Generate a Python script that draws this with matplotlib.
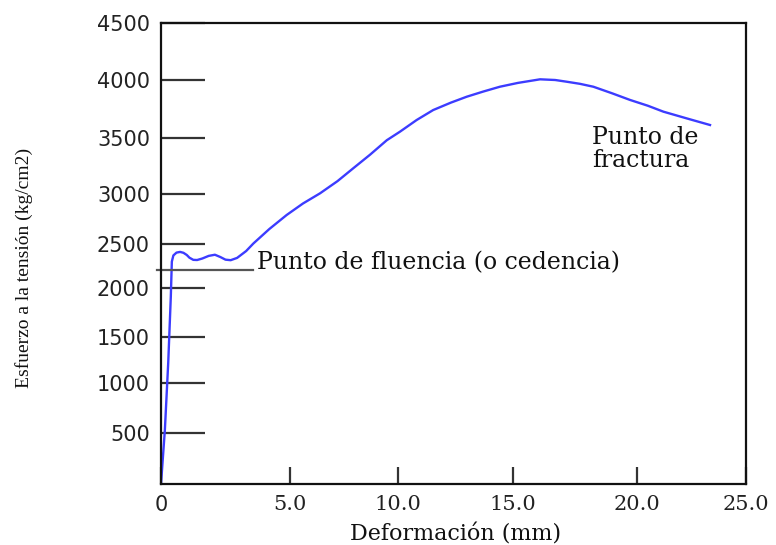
import numpy as np
import matplotlib
matplotlib.use('Agg')
import matplotlib.pyplot as plt

# datos
deformacion = [0.0, 0.15, 0.28, 0.38, 0.42, 0.48, 0.6, 0.74, 0.87, 1.0, 1.1, 1.25,
               1.4, 1.6, 1.85, 2.09, 2.3, 2.5, 2.7, 2.95, 3.3, 3.58, 4.2, 4.87,
               5.6, 6.39, 7.2, 7.93, 8.7, 9.48, 10.09, 10.81, 11.53, 12.3, 12.99,
               13.7, 14.43, 15.2, 16.09, 16.7, 17.17, 17.7, 18.24, 19.0, 19.72,
               20.5, 21.21, 22.3, 23.35]
esfuerzo = [0, 530, 1220, 1910, 2300, 2370, 2402, 2410, 2400, 2375, 2345, 2320,
            2318, 2335, 2365, 2378, 2352, 2322, 2316, 2342, 2420, 2505, 2650, 2790,
            2905, 3006, 3115, 3230, 3350, 3480, 3555, 3655, 3741, 3805, 3856,
            3900, 3942, 3975, 4006, 4000, 3985, 3967, 3942, 3885, 3828,
            3778, 3727, 3668, 3612]

x_ticks = [0, 5, 10, 15, 20, 25]
x_tick_labels = ['0', '5.0', '10.0', '15.0', '20.0', '25.0']
y_ticks = [500, 1000, 1500, 2000, 2500, 3000, 3500, 4000, 4500]
y_tick_labels = ['500', '1000', '1500', '2000', '2500', '3000', '3500', '4000', '4500']

fluencia = 2205          # nivel de la linea de fluencia
fluencia_x = (-0.15, 3.57)

# la escala del dibujo original no es uniforme: posicion (px) de cada marca
x_ref_val = [0, 5, 10, 15, 20, 25]
x_ref_px = [0, 129, 237, 352, 476, 585]
y_ref_val = [0, 500, 1000, 1500, 2000, 2500, 3000, 3500, 4000, 4500]
y_ref_px = [0, 51, 101, 147, 196, 240, 290, 346, 404, 461]


def piecewise(v, xs, ys):
    v = np.asarray(v, dtype=float)
    out = np.interp(v, xs, ys)
    lo = v < xs[0]
    hi = v > xs[-1]
    out = np.where(lo, ys[0] + (v - xs[0]) * (ys[1] - ys[0]) / (xs[1] - xs[0]), out)
    out = np.where(hi, ys[-1] + (v - xs[-1]) * (ys[-1] - ys[-2]) / (xs[-1] - xs[-2]), out)
    return out


def main():
    fig = plt.figure(figsize=(7.76, 5.45), dpi=100)
    ax = fig.add_axes([161 / 776, 61 / 545, 585 / 776, 461 / 545])

    ax.set_xscale('function', functions=(lambda v: piecewise(v, x_ref_val, x_ref_px),
                                         lambda p: piecewise(p, x_ref_px, x_ref_val)))
    ax.set_yscale('function', functions=(lambda v: piecewise(v, y_ref_val, y_ref_px),
                                         lambda p: piecewise(p, y_ref_px, y_ref_val)))
    ax.set_xlim(0, 25)
    ax.set_ylim(0, 4500)

    ax.plot(deformacion, esfuerzo, color='#3c3cff', lw=1.7, solid_joinstyle='round')
    ax.plot(fluencia_x, [fluencia, fluencia], color='#555555', lw=1.6, clip_on=False)

    ax.text(3.72, 2284, 'Punto de fluencia (o cedencia)', fontsize=17,
            family='DejaVu Serif', color='#111111', ha='left', va='center')
    ax.text(18.19, 3402, 'Punto de\nfractura', fontsize=17, family='DejaVu Serif',
            color='#111111', ha='left', va='center', linespacing=0.95)

    ax.tick_params(axis='y', direction='in', length=32, width=1.6, color='#333333', pad=8,
                   labelsize=15, labelcolor='#222222', labelfontfamily='DejaVu Sans')
    ax.tick_params(axis='x', direction='in', length=12, width=1.6, color='#333333', pad=8,
                   labelsize=15, labelcolor='#222222', labelfontfamily='DejaVu Serif')
    ax.minorticks_off()

    ax.set_xticks(x_ticks)
    ax.set_xticklabels(x_tick_labels)
    ax.set_yticks(y_ticks)
    ax.set_yticklabels(y_tick_labels)
    ax.get_xticklabels()[0].set_fontfamily('DejaVu Sans')

    for s in ax.spines.values():
        s.set_linewidth(1.6)
        s.set_color('#111111')

    ax.set_xlabel('Deformación (mm)', family='DejaVu Serif', fontsize=16, color='#111111')
    ax.xaxis.set_label_coords(0.503, -0.085)
    ax.set_ylabel('Esfuerzo a la tensión (kg/cm2)', family='Liberation Serif',
                  fontsize=14, color='#111111')
    ax.yaxis.set_label_coords(-0.219, 0.4685)

    fig.savefig('out.png', dpi=100)


if __name__ == '__main__':
    main()
